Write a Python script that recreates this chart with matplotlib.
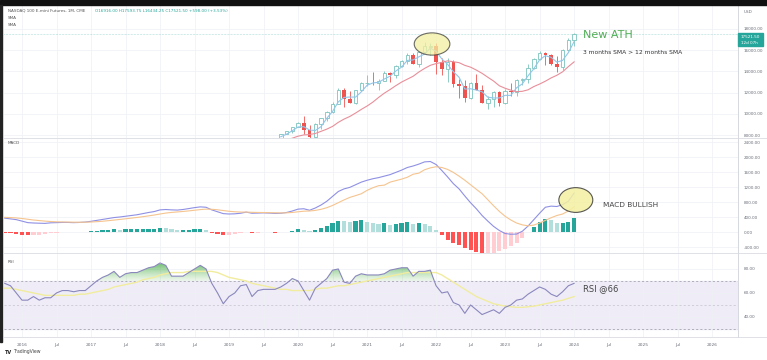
import numpy as np
import matplotlib.pyplot as plt
from matplotlib.patches import Ellipse, Rectangle
from matplotlib.path import Path
from matplotlib.colors import LinearSegmentedColormap

W, H = 767, 360

# month index: 0 = Oct 2015 ... 99 = Jan 2024
tick_pos = list(range(3, 124, 6))
tick_lab = []
for yr in range(2016, 2027):
    tick_lab += [str(yr), 'Jul']
tick_lab = tick_lab[:len(tick_pos)]

# ---- monthly candles (Oct 2019 -> Jan 2024) ----
candle_start = 48
opens = [7750, 8080, 8400, 8730, 9150, 8470, 7800, 9000, 9570, 10170, 10930, 12290, 11410,
         11050, 12260, 12890, 12930, 12900, 13090, 13860, 13690, 14550, 14980, 15580, 14690,
         15850, 16330, 16380, 14930, 14230, 14850, 12850, 12640, 11500, 12950, 12270, 11010,
         11410, 12060, 11020, 12140, 12050, 13180, 13250, 14330, 15180, 15760, 15500, 14720,
         14400, 15990, 16920]
highs = [8100, 8420, 8780, 9200, 9760, 8990, 9150, 9620, 10300, 11100, 12470, 12470, 12130,
         12280, 12960, 13700, 13900, 13300, 14060, 13900, 14620, 15120, 15700, 15700, 15870,
         16770, 16660, 16660, 15270, 15270, 15080, 13320, 13170, 13040, 13720, 12720, 11720,
         12170, 12190, 12300, 12880, 13240, 13350, 14670, 15290, 15930, 15800, 15630, 15450,
         16130, 17110, 17590]
lows = [7550, 8070, 8170, 8720, 8120, 6630, 7510, 8600, 9280, 10090, 10880, 10650, 11000,
        10930, 12170, 12620, 12700, 12200, 13070, 12960, 13420, 14430, 14670, 14690, 14430,
        15770, 15560, 13720, 13650, 13030, 12520, 11480, 11070, 11390, 12230, 10980, 10440,
        10670, 10740, 10900, 11680, 11690, 12760, 12950, 14190, 15040, 14560, 14650, 13990,
        14130, 15910, 16430]
closes = [8080, 8400, 8730, 9150, 8470, 7800, 9000, 9570, 10170, 10930, 12290, 11410, 11050,
          12260, 12890, 12930, 12900, 13090, 13860, 13690, 14550, 14980, 15580, 14690, 15850,
          16360, 16380, 14930, 14230, 14850, 12850, 12640, 11500, 12950, 12270, 11010, 11410,
          12060, 11020, 12140, 12050, 13180, 13250, 14330, 15180, 15760, 15500, 14720, 14400,
          15990, 16920, 17520]
sma3 = [7837, 8077, 8403, 8760, 8783, 8473, 8423, 8790, 9580, 10223, 11130, 11543, 11583,
        11573, 12067, 12693, 12907, 12973, 13283, 13547, 14033, 14407, 15037, 15083, 15373,
        15633, 16197, 15890, 15180, 14670, 13977, 13447, 12330, 12363, 12240, 12077, 11563,
        11493, 11497, 11740, 11737, 12457, 12827, 13587, 14253, 15090, 15480, 15327, 14873,
        15037, 15770, 16810]
sma12 = [7378, 7499, 7699, 7887, 8007, 8042, 8143, 8346, 8554, 8811, 9195, 9500, 9748,
         10069, 10416, 10731, 11100, 11541, 11946, 12289, 12654, 12992, 13266, 13539, 13939,
         14281, 14572, 14738, 14849, 14996, 14912, 14824, 14570, 14401, 14125, 13818, 13448,
         13090, 12643, 12411, 12229, 12090, 12123, 12264, 12571, 12805, 13074, 13383, 13633,
         13960, 14452, 14900]

# ---- MACD (Oct 2015 -> Jan 2024) ----
macd = [370, 350, 330, 290, 250, 240, 235, 230, 245, 250,
        255, 255, 250, 255, 265, 285, 310, 335, 360, 385,
        400, 420, 440, 460, 490, 520, 545, 590, 600, 590,
        585, 600, 625, 650, 670, 660, 590, 540, 490, 480,
        485, 500, 530, 500, 505, 510, 505, 495, 500, 520,
        560, 610, 620, 580, 640, 720, 820, 950, 1080, 1150,
        1190, 1260, 1330, 1380, 1420, 1450, 1490, 1530, 1590, 1650,
        1720, 1760, 1810, 1870, 1880, 1800, 1640, 1470, 1290, 1150,
        960, 780, 620, 440, 290, 150, 40, -40, -60, -55,
        20, 160, 330, 500, 660, 690, 680, 730, 820, 1040]
signal = [390, 385, 375, 360, 340, 320, 305, 290, 280, 272,
          268, 265, 262, 260, 261, 266, 275, 287, 302, 318,
          335, 352, 370, 388, 408, 430, 453, 480, 505, 522,
          535, 548, 563, 580, 598, 610, 606, 593, 572, 553,
          540, 532, 531, 525, 521, 519, 516, 512, 509, 511,
          521, 539, 555, 560, 576, 605, 648, 708, 782, 856,
          923, 970, 1020, 1110, 1180, 1235, 1250, 1330, 1370, 1410,
          1460, 1540, 1570, 1660, 1710, 1740, 1720, 1670, 1590, 1490,
          1380, 1260, 1140, 1020, 860, 700, 550, 420, 320, 240,
          190, 165, 185, 240, 310, 380, 440, 480, 560, 670]

# ---- RSI ----
rsi = [68, 66, 60, 54, 54, 57, 54, 56, 56, 60,
       62, 62, 61, 62, 62, 66, 70, 73, 75, 78,
       73, 76, 77, 77, 79, 81, 82, 85, 83, 74,
       74, 74, 77, 80, 83, 80, 68, 60, 51, 57,
       60, 66, 67, 57, 62, 63, 63, 63, 65, 68,
       72, 70, 62, 54, 64, 68, 72, 79, 80, 69,
       68, 74, 76, 75, 75, 75, 76, 79, 80, 81,
       81, 74, 78, 78, 79, 66, 60, 61, 52, 50,
       43, 50, 46, 42, 44, 46, 43, 48, 50, 54,
       55, 59, 62, 65, 63, 59, 57, 61, 66, 68]
rsi_ma = [64, 64, 63, 62, 61, 60, 59, 58, 58, 58,
          58, 58, 58, 59, 59, 60, 61, 62, 63, 65,
          66, 67, 68, 69, 71, 72, 73, 75, 76, 77,
          77, 77, 78, 78, 78, 78, 78, 77, 75, 73,
          72, 71, 70, 68, 67, 66, 65, 64, 63, 63,
          62, 62, 62, 62, 63, 64, 64, 65, 66, 66,
          67, 68, 69, 70, 71, 72, 73, 74, 75, 76,
          77, 77, 77, 77, 77, 77, 75, 72, 69, 66,
          63, 60, 57, 55, 53, 51, 50, 49, 48.5, 48,
          48, 48.5, 49, 50, 51, 52, 53, 54, 55.5, 57]

GRID = '#eef0f4'
TXT = '#6a6d78'

fig = plt.figure(figsize=(W / 100, H / 100), dpi=100)


def box(top, bottom):
    return [4 / W, 1 - bottom / H, 734 / W, (bottom - top) / H]


ax1 = fig.add_axes(box(5, 138))
ax2 = fig.add_axes(box(138, 253))
ax3 = fig.add_axes(box(253, 337))

for ax in (ax1, ax2, ax3):
    ax.set_xlim(-0.13, 127.5)
    for s in ('top', 'left', 'bottom'):
        ax.spines[s].set_visible(False)
    ax.spines['right'].set_color('#cfd2d9')
    ax.spines['right'].set_linewidth(0.6)
    ax.yaxis.tick_right()
    ax.tick_params(axis='y', length=0, labelsize=3, labelcolor=TXT, pad=4)
    ax.set_xticks(tick_pos)
    ax.tick_params(axis='x', length=0, labelsize=3.2, labelcolor=TXT)
    ax.grid(True, color=GRID, lw=0.5)
    ax.set_axisbelow(True)

ax1.set_xticklabels([])
ax2.set_xticklabels([])
ax3.set_xticklabels(tick_lab)
ax3.tick_params(axis='x', pad=4)

# ---- price pane ----
idx = np.arange(candle_start, candle_start + len(closes))
for i, o, h, l, c in zip(idx, opens, highs, lows, closes):
    if c >= o:
        ax1.vlines(i, l, h, color='#7cc4bd', lw=0.6, zorder=2)
        ax1.bar(i, max(c - o, 15), bottom=o, width=0.62, facecolor='white',
                edgecolor='#7cc4bd', lw=0.6, zorder=3)
    else:
        ax1.vlines(i, l, h, color='#ef5350', lw=0.6, zorder=2)
        ax1.bar(i, o - c, bottom=c, width=0.62, color='#ef5350', lw=0, zorder=3)
ax1.plot(idx, sma3, color='#93c6ea', lw=0.8, zorder=4)
ax1.plot(idx, sma12, color='#e88f9a', lw=0.8, zorder=4)
ax1.axhline(closes[-1], color='#26a69a', lw=0.4, ls=':', alpha=0.7)
ax1.set_ylim(7717, 20264)
ax1.set_yticks(range(8000, 18001, 2000))
ax1.set_yticklabels([f'{v:.2f}' for v in range(8000, 18001, 2000)])
ax1.add_patch(Ellipse((74.3, 16585), 6.2, 2100, facecolor='#f4f0a2', alpha=0.75,
                      edgecolor='#3a3a3a', lw=0.8, zorder=5))
ax1.text(100.6, 17430, 'New ATH', fontsize=8, color='#52ad55', va='center', zorder=6)
ax1.text(100.6, 15800, '3 months SMA > 12 months SMA', fontsize=4.3, color='#333333',
         va='center', zorder=6)

# ---- MACD pane ----
m_idx = np.arange(len(macd))
hist = np.array(macd) - np.array(signal)
cols = []
prev = 0
for v in hist:
    if v >= 0:
        cols.append('#26a69a' if v > prev else '#b2dfdb')
    else:
        cols.append('#ff5252' if v < prev else '#ffcdd2')
    prev = v
ax2.bar(m_idx, hist, width=0.72, color=cols, lw=0, zorder=2)
ax2.plot(m_idx, macd, color='#8f90e4', lw=0.8, zorder=3)
ax2.plot(m_idx, signal, color='#f5c48f', lw=0.8, zorder=3)
ax2.set_ylim(-560, 2507)
ax2.set_yticks(range(-400, 2401, 400))
ax2.set_yticklabels([f'{v:.2f}' for v in range(-400, 2401, 400)])
ax2.add_patch(Ellipse((99.3, 853), 5.9, 660, facecolor='#f4f0a2', alpha=0.85,
                      edgecolor='#3a3a3a', lw=0.8, zorder=5))
ax2.text(104.0, 720, 'MACD BULLISH', fontsize=5.3, color='#454545', va='center', zorder=6)

# ---- RSI pane ----
ax3.axhspan(30, 70, color='#efecf8', zorder=0)
ax3.axhline(70, color='#9598a1', lw=0.5, ls=(0, (3, 3)))
ax3.axhline(50, color='#9598a1', lw=0.5, ls=(0, (3, 3)), alpha=0.5)
ax3.axhline(30, color='#9598a1', lw=0.5, ls=(0, (3, 3)))
r = np.array(rsi, dtype=float)
ob = ax3.fill_between(m_idx, 70, r, where=r > 70, interpolate=True, facecolor='none',
                      lw=0, zorder=1)
green = LinearSegmentedColormap.from_list(
    'g', [(0.55, 0.80, 0.50, 0.15), (0.30, 0.69, 0.31, 0.75)])
grad = np.linspace(0, 1, 64).reshape(-1, 1)
im = ax3.imshow(grad, cmap=green, origin='lower', aspect='auto',
                extent=[0, len(rsi) - 1, 70, 84], zorder=1, interpolation='bilinear')
im.set_clip_path(Path.make_compound_path(*ob.get_paths()), transform=ax3.transData)
ax3.plot(m_idx, rsi_ma, color='#f1ec9e', lw=1.0, zorder=2)
ax3.plot(m_idx, rsi, color='#8a87bd', lw=0.8, zorder=3)
ax3.set_xlim(-0.13, 127.5)
ax3.set_ylim(23.3, 93.3)
ax3.set_yticks([40, 60, 80])
ax3.set_yticklabels(['40.00', '60.00', '80.00'])
ax3.text(100.6, 63.5, 'RSI @66', fontsize=6, color='#454545', va='center', zorder=6)

# ---- frame / decorations ----
fig.add_artist(Rectangle((0, 1 - 5 / H), 1, 5 / H, color='#111111',
                         transform=fig.transFigure))
fig.add_artist(Rectangle((0, 1 - 342 / H), 2 / W, 337 / H, color='#222222',
                         transform=fig.transFigure))
for yy in (138, 253, 337):
    fig.add_artist(plt.Line2D([4 / W, 1], [1 - yy / H] * 2, color='#d9dce3', lw=0.6))

fig.text(8 / W, 1 - 11 / H, 'NASDAQ 100 E-mini Futures, 1M, CME', fontsize=3,
         color='#555555', va='center')
fig.text(95 / W, 1 - 11 / H, 'O16916.00 H17593.75 L16434.25 C17521.50 +598.00 (+3.53%)',
         fontsize=3, color='#26a69a', va='center')
fig.text(8 / W, 1 - 18 / H, 'SMA', fontsize=3, color='#555555', va='center')
fig.text(8 / W, 1 - 25 / H, 'SMA', fontsize=3, color='#555555', va='center')
fig.text(8 / W, 1 - 143 / H, 'MACD', fontsize=3, color='#555555', va='center')
fig.text(8 / W, 1 - 262 / H, 'RSI', fontsize=3, color='#555555', va='center')
fig.text(744 / W, 1 - 12 / H, 'USD', fontsize=3, color=TXT, va='center')

fig.add_artist(Rectangle((738 / W, 1 - 46 / H), 25 / W, 13 / H, color='#26a69a',
                         transform=fig.transFigure))
fig.text(741 / W, 1 - 36.5 / H, '17521.50', fontsize=3, color='white', va='center')
fig.text(741 / W, 1 - 42.5 / H, '12d 07h', fontsize=3, color='white', va='center')

fig.text(5 / W, 1 - 352 / H, 'TV', fontsize=3.5, color='#222222', va='center',
         fontweight='bold')
fig.text(13 / W, 1 - 352 / H, 'TradingView', fontsize=3.3, color='#444444', va='center')

fig.savefig('out.png', dpi=100)
